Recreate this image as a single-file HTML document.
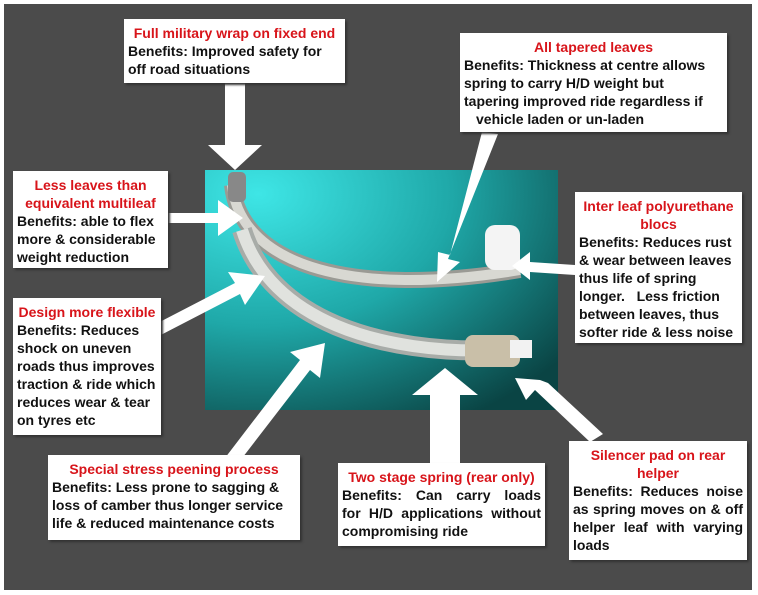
<!DOCTYPE html>
<html><head><meta charset="utf-8"><style>
body{margin:0;background:#fff;width:758px;height:595px;position:relative;overflow:hidden;font-family:"Liberation Sans",Arial,sans-serif}
.bg{position:absolute;left:4px;top:4px;width:748px;height:586px;background:#4b4b4b}
.box{position:absolute;background:#fff;box-shadow:2px 2px 2px #333;font-weight:bold;font-size:14px;line-height:18px;color:#111;padding:5px 4px 0 4px;box-sizing:border-box;white-space:nowrap}
.r{color:#d8141a}
.c{text-align:center}
.jl{text-align:justify;text-align-last:justify}
svg{position:absolute;left:0;top:0}
</style></head><body>
<div class="bg"></div>
<svg width="758" height="595">
<defs>
<radialGradient id="g" cx="0.15" cy="0.1" r="1.1">
<stop offset="0" stop-color="#3ee6e6"/><stop offset="0.5" stop-color="#1fa8a8"/><stop offset="1" stop-color="#0a4444"/>
</radialGradient>
</defs>
<rect x="205" y="170" width="353" height="240" fill="url(#g)"/>
<path d="M232 185 C240 260 340 300 520 270" stroke="#9a9a94" stroke-width="16" fill="none"/>
<path d="M232 185 C240 260 340 300 520 270" stroke="#d8d8d2" stroke-width="10" fill="none"/>
<path d="M242 230 C270 320 380 355 500 350" stroke="#a8aca8" stroke-width="20" fill="none"/>
<path d="M242 230 C270 320 380 355 500 350" stroke="#e0e2de" stroke-width="12" fill="none"/>
<rect x="228" y="172" width="18" height="30" rx="5" fill="#888"/>
<rect x="465" y="335" width="55" height="32" rx="8" fill="#c9bfa8"/>
<rect x="510" y="340" width="22" height="18" fill="#f2f2f2"/>
<rect x="485" y="225" width="35" height="45" rx="10" fill="#f4f4f4"/>
<g fill="#fff">
<polygon points="225,83 245,83 245,145 262,145 235,170 208,145 225,145"/>
<polygon points="168,213 218,213 218,200 243,218 218,236 218,223 168,223"/>
<polygon points="150,327 235,283 228,272 265,276 245,305 240,294 155,338"/>
<polygon points="225,458 300,360 290,352 325,343 320,378 310,370 236,466"/>
<polygon points="430,463 430,395 412,395 445,368 478,395 460,395 460,463"/>
<polygon points="590,442 535,390 526,400 515,378 540,380 548,383 603,434"/>
<polygon points="482,132 450,255 438,252 437,282 460,262 448,259 498,134"/>
<polygon points="575,265 530,262 530,252 512,266 530,280 530,272 575,275"/>
</g>
</svg>
<div class="box" style="left:124px;top:19px;width:221px;height:64px"><div class="r c">Full military wrap on fixed end</div>Benefits: Improved safety for<br>off road situations</div>
<div class="box" style="left:460px;top:33px;width:267px;height:99px"><div class="r c">All tapered leaves</div>Benefits: Thickness at centre allows<br>spring to carry H/D weight but<br>tapering improved ride regardless if<br><span style="padding-left:12px">vehicle laden or un-laden</span></div>
<div class="box" style="left:13px;top:171px;width:155px;height:97px"><div class="r c">Less leaves than<br>equivalent multileaf</div>Benefits: able to flex<br>more &amp; considerable<br>weight reduction</div>
<div class="box" style="left:575px;top:192px;width:167px;height:151px"><div class="r c">Inter leaf polyurethane<br>blocs</div>Benefits: Reduces rust<br>&amp; wear between leaves<br>thus life of spring<br>longer.&nbsp;&nbsp; Less friction<br>between leaves, thus<br>softer ride &amp; less noise</div>
<div class="box" style="left:13px;top:298px;width:148px;height:137px"><div class="r c">Design more flexible</div>Benefits: Reduces<br>shock on uneven<br>roads thus improves<br>traction &amp; ride which<br>reduces wear &amp; tear<br>on tyres etc</div>
<div class="box" style="left:48px;top:455px;width:252px;height:85px"><div class="r c">Special stress peening process</div>Benefits: Less prone to sagging &amp;<br>loss of camber thus longer service<br>life &amp; reduced maintenance costs</div>
<div class="box" style="left:338px;top:463px;width:207px;height:83px"><div class="r c">Two stage spring (rear only)</div><div class="jl">Benefits: Can carry loads</div><div class="jl">for H/D applications without</div><div>compromising ride</div></div>
<div class="box" style="left:569px;top:441px;width:178px;height:119px"><div class="r c">Silencer pad on rear<br>helper</div><div class="jl">Benefits: Reduces noise</div><div class="jl">as spring moves on &amp; off</div><div class="jl">helper leaf with varying</div><div>loads</div></div>
</body></html>
